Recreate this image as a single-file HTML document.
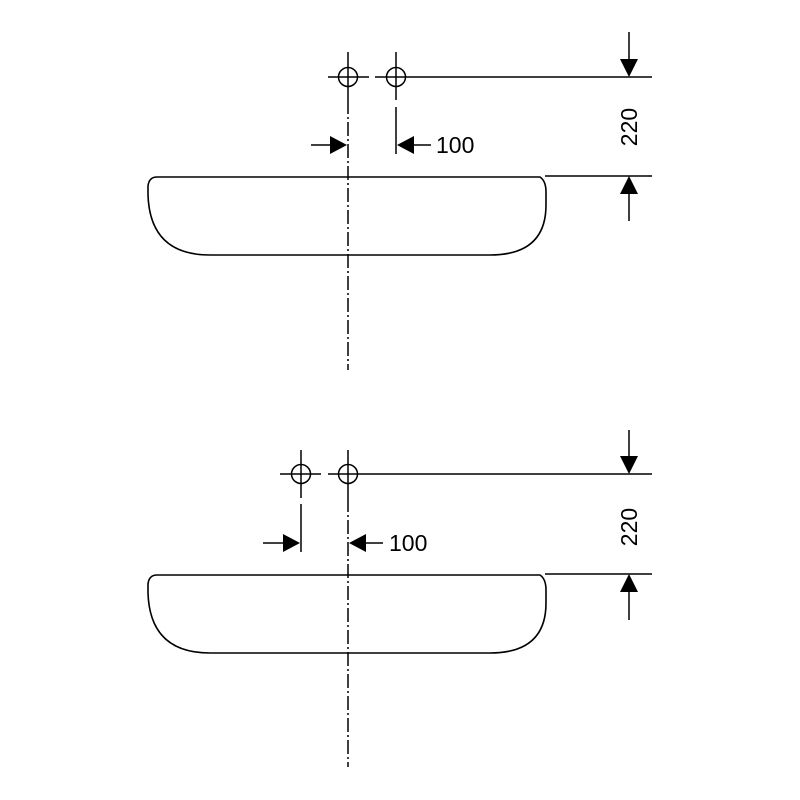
<!DOCTYPE html>
<html><head><style>html,body{margin:0;padding:0;background:#fff}svg{display:block}</style></head>
<body>
<svg width="800" height="800" viewBox="0 0 800 800" xmlns="http://www.w3.org/2000/svg">
<defs>
<g id="basin">
<path d="M157 177 L540 177 Q546 181 546 192 L546 205 Q546 255 490 255 L210 255 Q150 255 148 195 L148 186 Q149 177 157 177 Z" fill="none" stroke="#000" stroke-width="1.6"/>
</g>
</defs>
<g stroke="#000" stroke-width="1.5" fill="none">
<!-- top drawing -->
<use href="#basin"/>
<circle cx="348" cy="77" r="9.5"/>
<circle cx="396" cy="77" r="9.5"/>
<line x1="328" y1="77" x2="369" y2="77"/>
<line x1="375" y1="77" x2="652" y2="77"/>
<line x1="348" y1="52" x2="348" y2="100"/>
<line x1="396" y1="52" x2="396" y2="100"/>
<line x1="396" y1="107" x2="396" y2="154"/>
<line x1="348" y1="100" x2="348" y2="370" stroke-dasharray="14 3 2 3"/>
<line x1="311" y1="145" x2="332" y2="145"/>
<line x1="412" y1="145" x2="431" y2="145"/>
<line x1="545" y1="176" x2="652" y2="176"/>
<line x1="629" y1="32" x2="629" y2="62"/>
<line x1="629" y1="192" x2="629" y2="221"/>
<!-- bottom drawing -->
<use href="#basin" transform="translate(0,398)"/>
<circle cx="301" cy="474" r="9.5"/>
<circle cx="348" cy="474" r="9.5"/>
<line x1="280" y1="474" x2="321" y2="474"/>
<line x1="328" y1="474" x2="652" y2="474"/>
<line x1="301" y1="450" x2="301" y2="498"/>
<line x1="301" y1="504" x2="301" y2="552"/>
<line x1="348" y1="450" x2="348" y2="498"/>
<line x1="348" y1="498" x2="348" y2="767" stroke-dasharray="14 3 2 3"/>
<line x1="263" y1="543" x2="285" y2="543"/>
<line x1="364" y1="543" x2="383" y2="543"/>
<line x1="545" y1="574" x2="652" y2="574"/>
<line x1="629" y1="430" x2="629" y2="460"/>
<line x1="629" y1="590" x2="629" y2="620"/>
</g>
<g fill="#000">
<polygon points="347,145 330,136 330,154"/>
<polygon points="397,145 414,136 414,154"/>
<polygon points="629,77 620,59 638,59"/>
<polygon points="629,176 620,194 638,194"/>
<polygon points="300,543 283,534 283,552"/>
<polygon points="349,543 366,534 366,552"/>
<polygon points="629,474 620,456 638,456"/>
<polygon points="629,574 620,592 638,592"/>
</g>
<g font-family="'Liberation Sans', sans-serif" font-size="23" fill="#000">
<text x="436" y="153">100</text>
<text x="389" y="551">100</text>
<text transform="translate(637,127) rotate(-90)" text-anchor="middle">220</text>
<text transform="translate(637,527) rotate(-90)" text-anchor="middle">220</text>
</g>
</svg>
</body></html>
